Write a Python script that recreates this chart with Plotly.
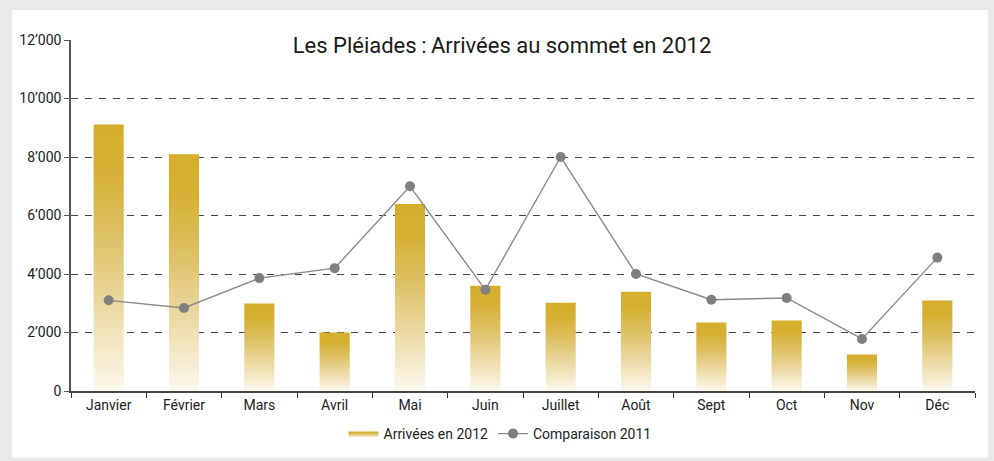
import plotly.graph_objects as go

months = ["Janvier", "Février", "Mars", "Avril", "Mai", "Juin", "Juillet",
          "Août", "Sept", "Oct", "Nov", "Déc"]
arrivals_2012 = [9110, 8090, 2990, 2000, 6390, 3600, 3020, 3390, 2340, 2410, 1250, 3090]
comparison_2011 = [3100, 2840, 3860, 4200, 7000, 3460, 8000, 4000, 3120, 3180, 1780, 4560]
y_tickvals = [0, 2000, 4000, 6000, 8000, 10000, 12000]
y_ticktext = ["0", "2’000", "4’000", "6’000", "8’000", "10’000", "12’000"]
grid_vals = [2000, 4000, 6000, 8000, 10000]

GOLD = "#d4ae2b"
FONT = "Roboto"
BAR_W = 0.4

fig = go.Figure()

gradient = [[0, "#fcf8ee"], [0.3, "#ecdba6"], [0.62, "#dcbd5c"], [0.85, "#d5af31"], [1, GOLD]]

for i, v in enumerate(arrivals_2012):
    fig.add_trace(go.Scatter(
        x=[i - BAR_W / 2, i + BAR_W / 2, i + BAR_W / 2, i - BAR_W / 2, i - BAR_W / 2],
        y=[0, 0, v, v, 0],
        mode="lines", fill="toself",
        line=dict(width=0, color=GOLD),
        fillgradient=dict(type="vertical", colorscale=gradient, start=0, stop=v),
        name="Arrivées en 2012", legendgroup="a2012", showlegend=(i == 0),
        hoveron="fills", text=f"{months[i]}: {v}", hoverinfo="text",
    ))

fig.add_trace(go.Scatter(
    x=list(range(len(months))), y=comparison_2011,
    mode="lines+markers", name="Comparaison 2011",
    line=dict(color="#8a8a8c", width=1.4),
    marker=dict(color="#7f7f82", size=10),
))

# invisible overlay axis carrying the dashed grid (no line at the 12'000 top)
fig.add_trace(go.Scatter(x=[0], y=[0], yaxis="y2", mode="markers",
                         marker=dict(opacity=0), showlegend=False, hoverinfo="skip"))

fig.update_layout(
    width=994, height=461,
    paper_bgcolor="#e9e9e9", plot_bgcolor="rgba(0,0,0,0)",
    margin=dict(l=71, r=19, t=40, b=69),
    font=dict(family=FONT, size=14, color="#222222"),
    title=dict(text="Les Pléiades\u2009:\u2009Arrivées au sommet en 2012",
               x=502 / 994, xref="container", xanchor="center",
               y=1 - 45 / 461, yref="container", yanchor="middle",
               font=dict(family=FONT, size=22, color="#1a1a1a")),
    xaxis=dict(range=[-0.5, 11.5], tickvals=list(range(len(months))), ticktext=months,
               ticks="", showgrid=False, zeroline=False,
               showline=True, linecolor="#444444", linewidth=1.5,
               minor=dict(tick0=0.5, dtick=1, ticks="outside", ticklen=5,
                          tickwidth=1.2, tickcolor="#333333", showgrid=False),
               tickfont=dict(size=14, color="#222222")),
    yaxis=dict(range=[0, 12000], tickvals=y_tickvals, ticktext=y_ticktext,
               showgrid=False, zeroline=False,
               showline=True, linecolor="#555555", linewidth=1.5,
               ticks="outside", ticklen=5, tickwidth=1.2, tickcolor="#555555",
               tickfont=dict(size=14, color="#222222")),
    yaxis2=dict(range=[0, 12000], overlaying="y", tickvals=grid_vals,
                showticklabels=False, ticks="", showline=False, zeroline=False,
                showgrid=True, gridcolor="#444444", gridwidth=1.4, griddash="7px,7px"),
    legend=dict(orientation="h", x=(500 - 71) / 904, xanchor="center",
                y=(392 - 434) / 352, yanchor="middle",
                font=dict(size=14, color="#222222"), bgcolor="rgba(0,0,0,0)"),
    shapes=[dict(type="rect", xref="paper", yref="paper", layer="below",
                 x0=(12 - 71) / 904, x1=(988 - 71) / 904,
                 y0=(392 - 459) / 352, y1=(392 - 10) / 352,
                 fillcolor="white", line=dict(width=0))],
    showlegend=True,
)

fig.write_html("out.html", config={"displayModeBar": False},
               post_script="document.body.style.margin='0';document.body.style.overflow='hidden';")
